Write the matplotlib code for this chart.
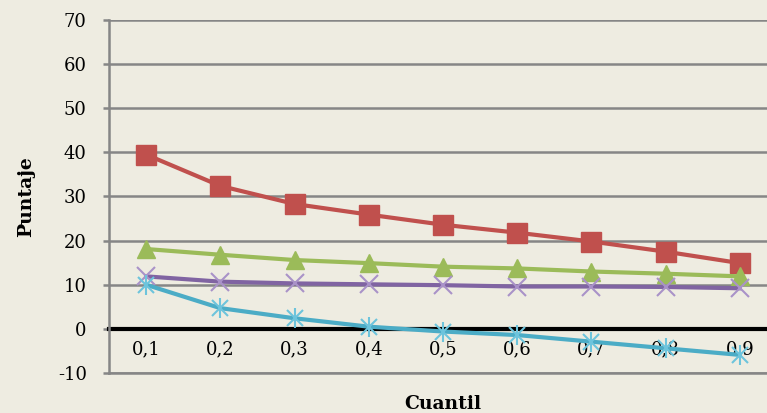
import matplotlib
matplotlib.use("Agg")
import matplotlib.pyplot as plt
import numpy as np

plt.rcParams["axes.unicode_minus"] = False

categories = ["0,1", "0,2", "0,3", "0,4", "0,5", "0,6", "0,7", "0,8", "0,9"]
red_vals = [39.5, 32.4, 28.3, 25.9, 23.6, 21.8, 19.8, 17.5, 14.9]
green_vals = [18.1, 16.8, 15.6, 14.9, 14.1, 13.7, 13.0, 12.5, 11.9]
purple_vals = [11.9, 10.7, 10.3, 10.1, 9.9, 9.6, 9.6, 9.5, 9.2]
cyan_vals = [10.0, 4.7, 2.4, 0.5, -0.6, -1.4, -2.9, -4.4, -5.9]
y_ticks = [-10, 0, 10, 20, 30, 40, 50, 60, 70]

bg = "#EEECE1"
fig = plt.figure(figsize=(7.67, 4.13), dpi=100, facecolor=bg)
ax = fig.add_axes([109/767, 1-373/413, 668/767, (373-20)/413], facecolor=bg)
x = np.arange(1, len(categories)+1)

ax.set_xlim(0.5, 9.5)
ax.set_ylim(-10, 70)
ax.set_yticks(y_ticks)
ax.yaxis.grid(True, color="#868686", lw=1.8, zorder=0)
ax.set_axisbelow(True)
ax.axhline(-10, color="#868686", lw=1.8, clip_on=False, zorder=1)

ax.plot(x, red_vals, color="#C0504D", lw=3, marker="s", ms=14, mfc="#C0504D", mec="#C0504D", zorder=3)
ax.plot(x, green_vals, color="#9BBB59", lw=3, marker="^", ms=13, mfc="#9BBB59", mec="#9BBB59", zorder=3)
ax.plot(x, purple_vals, color="#8064A2", lw=3, zorder=3)
ax.plot(x, purple_vals, ls="none", marker="x", ms=13, mew=1.5, mec="#A992C8", zorder=3)
ax.plot(x, cyan_vals, color="#4BACC6", lw=3, zorder=3)
ax.plot(x, cyan_vals, ls="none", marker="x", ms=12, mew=1.5, mec="#6DC4DC", zorder=3)
ax.plot(x, cyan_vals, ls="none", marker="|", ms=15, mew=1.5, mec="#6DC4DC", zorder=3)

for s in ["top", "right"]:
    ax.spines[s].set_visible(False)
ax.spines["left"].set_color("#868686")
ax.spines["left"].set_linewidth(1.8)
ax.spines["bottom"].set_position(("data", 0))
ax.spines["bottom"].set_color("black")
ax.spines["bottom"].set_linewidth(3)
ax.spines["bottom"].set_zorder(2)

ax.set_xticks(x)
ax.set_xticklabels(categories, fontsize=13, family="DejaVu Serif")
ax.tick_params(axis="x", length=0, pad=8)
ax.tick_params(axis="y", length=4.5, width=1.8, color="#868686", labelsize=13, pad=11.5)
for lab in ax.get_yticklabels():
    lab.set_family("DejaVu Serif")

fig.text(26/767, 1-197/413, "Puntaje", rotation=90, ha="center", va="center",
         fontsize=13.5, fontweight="bold", family="DejaVu Serif")
fig.text(443/767, 1-404/413, "Cuantil", ha="center", va="center",
         fontsize=13.5, fontweight="bold", family="DejaVu Serif")

fig.savefig("out.png", dpi=100, facecolor=bg)
